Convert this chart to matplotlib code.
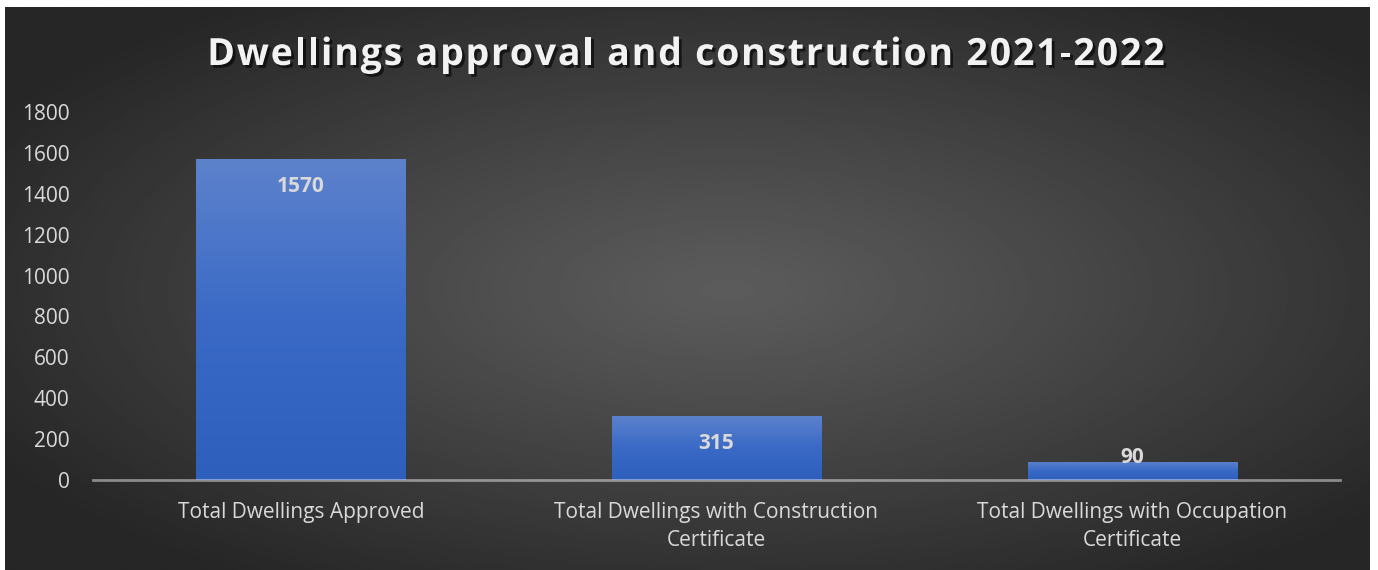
import numpy as np
import matplotlib.pyplot as plt
import matplotlib.patheffects as pe
from matplotlib.colors import LinearSegmentedColormap

title = "Dwellings approval and construction 2021-2022"
categories = ["Total Dwellings Approved",
              "Total Dwellings with Construction\nCertificate",
              "Total Dwellings with Occupation\nCertificate"]
values = [1570, 315, 90]
yticks = [0, 200, 400, 600, 800, 1000, 1200, 1400, 1600, 1800]

plt.rcParams['font.family'] = ['Open Sans', 'DejaVu Sans']

fig = plt.figure(figsize=(13.78, 5.70), dpi=100)
fig.patch.set_facecolor('white')

# dark panel with radial gradient
bg = fig.add_axes([5/1378, 0, 1365/1378, 563/570], zorder=0)
yy, xx = np.mgrid[0:300, 0:700]
cx, cy = 370, 150
r = np.sqrt(((xx - cx) / 700) ** 2 + ((yy - cy) / 300) ** 2)
r = np.clip(r / 0.62, 0, 1)
lo, hi = 0.15, 0.36
img = hi - (hi - lo) * r ** 1.1
bg.imshow(img, cmap='gray', vmin=0, vmax=1, extent=(0, 1, 0, 1), aspect='auto')
bg.axis('off')

ax = fig.add_axes([93/1378, 1 - 480/570, 1247/1378, 368/570], zorder=1)
ax.patch.set_alpha(0)
x = np.arange(len(values))
bars = ax.bar(x, values, width=0.503, color='#4472c4', zorder=2)

# vertical gradient on each bar (lighter at the top)
grad = np.linspace(0, 1, 256).reshape(-1, 1)
cmap = LinearSegmentedColormap.from_list('bar', ['#5d82cc', '#3a6ac6', '#2f5fbd'])
for b in bars:
    bx, bw, bh = b.get_x(), b.get_width(), b.get_height()
    b.set_path_effects([pe.SimplePatchShadow(offset=(0, 0), shadow_rgbFace='black', alpha=0.35), pe.Normal()])
    im = ax.imshow(grad, cmap=cmap, extent=(bx, bx + bw, 0, bh), aspect='auto', zorder=3)
    im.set_clip_path(b)

for xi, v in zip(x, values):
    off = -20 if v > 250 else 3
    ax.annotate(str(v), (xi, v), xytext=(0, off), textcoords='offset points',
                ha='center', va='center', fontsize=15, fontweight='bold', color='#d9d9d9', zorder=5)

ax.set_xlim(-0.5, len(values) - 0.5)
ax.set_ylim(0, 1800)
ax.set_yticks(yticks)
ax.set_xticks(x)
ax.set_xticklabels(categories, linespacing=1.45)
ax.tick_params(axis='both', length=0, labelsize=15, colors='#d9d9d9')
ax.tick_params(axis='y', pad=17)
ax.tick_params(axis='x', pad=16)
for s in ['top', 'right', 'left']:
    ax.spines[s].set_visible(False)
ax.spines['bottom'].set_color((1, 1, 1, 0.45))
ax.spines['bottom'].set_linewidth(2)
ax.spines['bottom'].set_zorder(6)

# title with letter spacing: place characters one by one
renderer = fig.canvas.get_renderer()
tkw = dict(fontsize=27, fontweight='bold', color='#f2f2f2', va='center', ha='left',
           path_effects=[pe.SimplePatchShadow(offset=(2, -2), shadow_rgbFace='black', alpha=0.6), pe.Normal()])
spacing = 1.8  # px between characters
widths = []
for ch in title:
    t = fig.text(0, 0, ch.replace(' ', 'i'), **tkw)
    w = t.get_window_extent(renderer).width
    if ch == ' ':
        t2 = fig.text(0, 0, 'i i', **tkw)
        w = t2.get_window_extent(renderer).width - 2 * w
        t2.remove()
    t.remove()
    widths.append(w)
total = sum(widths) + spacing * (len(title) - 1)
xpos = 686 - total / 2
for ch, w in zip(title, widths):
    if ch != ' ':
        fig.text(xpos / 1378, 1 - 55/570, ch, **tkw)
    xpos += w + spacing

plt.savefig("out.png", dpi=100)
